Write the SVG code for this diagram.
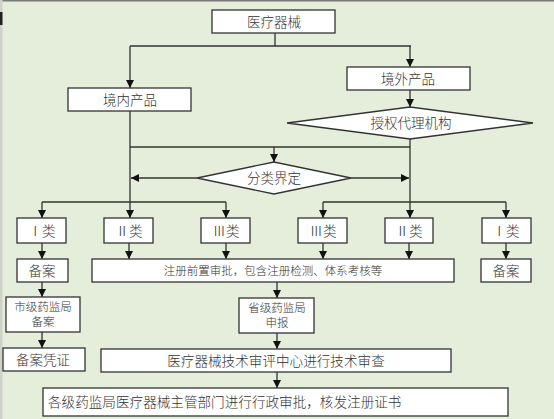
<svg xmlns="http://www.w3.org/2000/svg" width="554" height="419" viewBox="0 0 554 419">
<defs>
<marker id="ah" markerUnits="userSpaceOnUse" markerWidth="8" markerHeight="8" refX="8" refY="4" orient="auto">
<path d="M0,0 L8,4 L0,8 z" fill="#111"/>
</marker>
<style>
.b{fill:#fff;stroke:#333;stroke-width:1.3}
.c{fill:none;stroke:#333;stroke-width:1.3}
.a{marker-end:url(#ah)}
text{font-family:"Liberation Serif","Noto Sans CJK SC",serif;font-weight:300;fill:#333;text-anchor:middle}
</style>
</defs>
<rect width="554" height="419" fill="#E4EEDB"/>
<rect x="0" y="0" width="554" height="1.5" fill="#7a7a7a"/>
<rect x="0" y="0" width="2.5" height="419" fill="#cfd2c8"/>
<rect x="0" y="12" width="2.5" height="13" fill="#222"/>

<g id="connectors">
<path class="c" d="M275,33 V46 M130,46 H411"/>
<path class="c a" d="M130,46 V88"/>
<path class="c a" d="M410,46 V67"/>
<path class="c a" d="M410,90 V107"/>
<path class="c a" d="M130,111 V218"/>
<path class="c a" d="M410,139 V218"/>
<path class="c" d="M130,147 H410"/>
<path class="c a" d="M274,147 V162"/>
<path class="c a" d="M197,178 H131"/>
<path class="c a" d="M351,178 H409"/>
<path class="c" d="M42,202 H226 M323,202 H506"/>
<path class="c a" d="M42,202 V218"/>
<path class="c a" d="M226,202 V218"/>
<path class="c a" d="M323,202 V218"/>
<path class="c a" d="M506,202 V218"/>
<path class="c a" d="M42,243 V259"/>
<path class="c a" d="M129,243 V259"/>
<path class="c a" d="M226,243 V259"/>
<path class="c a" d="M323,243 V259"/>
<path class="c a" d="M409,243 V259"/>
<path class="c a" d="M506,243 V259"/>
<path class="c a" d="M42,282 V297"/>
<path class="c a" d="M42,332 V348"/>
<path class="c a" d="M277,282 V298"/>
<path class="c a" d="M277,333 V349"/>
<path class="c a" d="M277,372 V388"/>
</g>

<g id="n-device"><rect class="b" x="212" y="10" width="123" height="23"/><text x="274" y="26.5" font-size="13.5">医疗器械</text></g>
<g id="n-domestic"><rect class="b" x="68" y="88" width="123" height="23"/><text x="130" y="104.5" font-size="13.5">境内产品</text></g>
<g id="n-foreign"><rect class="b" x="347" y="67" width="123" height="23"/><text x="408" y="83.5" font-size="13.5">境外产品</text></g>
<g id="n-agent"><polygon class="b" points="287,123 410,107 533,123 410,139"/><text x="411" y="128" font-size="13.5">授权代理机构</text></g>
<g id="n-classify"><polygon class="b" points="197,178 274,162 351,178 274,194"/><text x="274" y="183" font-size="13.5">分类界定</text></g>

<g id="n-c1l"><rect class="b" x="17" y="218" width="49" height="25"/><text x="42" y="235.5" font-size="13.5">Ⅰ类</text></g>
<g id="n-c2l"><rect class="b" x="104" y="218" width="49" height="25"/><text x="129" y="235.5" font-size="13.5">Ⅱ类</text></g>
<g id="n-c3l"><rect class="b" x="201" y="218" width="49" height="25"/><text x="226" y="235.5" font-size="13.5">Ⅲ类</text></g>
<g id="n-c3r"><rect class="b" x="298" y="218" width="49" height="25"/><text x="323" y="235.5" font-size="13.5">Ⅲ类</text></g>
<g id="n-c2r"><rect class="b" x="385" y="218" width="48" height="25"/><text x="409" y="235.5" font-size="13.5">Ⅱ类</text></g>
<g id="n-c1r"><rect class="b" x="482" y="218" width="49" height="25"/><text x="506" y="235.5" font-size="13.5">Ⅰ类</text></g>

<g id="n-file-l"><rect class="b" x="17" y="259" width="51" height="23"/><text x="42" y="275.5" font-size="13.5">备案</text></g>
<g id="n-pre"><rect class="b" x="92" y="259" width="362" height="23"/><text x="273" y="274.5" font-size="11.5">注册前置审批，包含注册检测、体系考核等</text></g>
<g id="n-file-r"><rect class="b" x="481" y="259" width="50" height="23"/><text x="506" y="275.5" font-size="13.5">备案</text></g>

<g id="n-city"><rect class="b" x="6" y="297" width="74" height="35"/><text x="43" y="311" font-size="11.5">市级药监局</text><text x="43" y="326" font-size="11.5">备案</text></g>
<g id="n-cert"><rect class="b" x="3" y="348" width="82" height="23"/><text x="43" y="364.5" font-size="13.5">备案凭证</text></g>
<g id="n-prov"><rect class="b" x="239" y="298" width="75" height="35"/><text x="277" y="312" font-size="11.5">省级药监局</text><text x="277" y="327" font-size="11.5">申报</text></g>
<g id="n-tech"><rect class="b" x="101" y="349" width="350" height="23"/><text x="276" y="365.5" font-size="13.6">医疗器械技术审评中心进行技术审查</text></g>
<g id="n-final"><rect class="b" x="43" y="388" width="465" height="28"/><text x="48" y="407" font-size="13.6" style="text-anchor:start">各级药监局医疗器械主管部门进行行政审批，核发注册证书</text></g>
</svg>
